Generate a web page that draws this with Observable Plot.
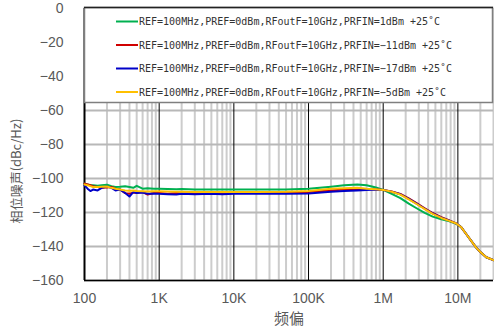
<!DOCTYPE html>
<html>
<head>
<meta charset="utf-8">
<script src="https://cdn.jsdelivr.net/npm/d3@7"></script>
<script src="https://cdn.jsdelivr.net/npm/@observablehq/plot@0.6"></script>
<style>
  html, body { margin: 0; padding: 0; background: #fff; }
  #chart { width: 494px; height: 333px; }
</style>
</head>
<body>
<div id="chart"></div>
<script>
// Frequency offsets (Hz)
const freq = [100, 110, 120, 130, 150, 170, 200, 230, 260, 300, 350, 400, 450, 500, 600, 700, 850,
  1000, 1300, 1700, 2000, 3000, 5000, 7000, 10000, 20000, 50000, 100000, 200000, 300000, 450000,
  600000, 800000, 1000000, 1300000, 1700000, 2200000, 2800000, 3600000, 4600000, 6000000, 7700000,
  9500000, 11000000, 13000000, 15000000, 17500000, 20000000, 24000000, 30000000];

// Phase noise (dBc/Hz) per series
const green = [-103, -103.5, -104, -104, -104.3, -104, -103.7, -104.5, -105, -104.8, -104.5, -105, -105.5, -104.3, -106, -105.8, -106,
  -106, -106.2, -106.3, -106.2, -106.4, -106.5, -106.4, -106.5, -106.5, -106.5, -106, -104.8, -104, -103.5,
  -104, -105.3, -106.7, -109, -111.5, -114.8, -117.5, -120.2, -122.4, -124, -125.2,
  -126.7, -128.5, -132.8, -136.5, -140.5, -143.3, -146.3, -148];
const red = [-103, -103.5, -104, -104.5, -105, -105.5, -105.3, -105, -106, -106.5, -108.6, -109, -108.3, -108.6, -108, -109.4, -108.5,
  -108.6, -109, -108.6, -108.8, -108.7, -108.6, -108.8, -108.6, -108.6, -108.4, -108, -107, -106.5, -106,
  -106.2, -106.4, -106.7, -107.6, -109.1, -111.7, -114.5, -117.5, -120.3, -122.8, -124.7,
  -126.4, -128.5, -132.8, -136.5, -140.5, -143.3, -146.3, -148];
const blue = [-104, -106, -107.4, -106.5, -107, -105.5, -104.7, -105.5, -107, -106.5, -108.5, -110.6, -108, -108.5, -108.3, -109, -108.8,
  -109, -109.2, -109.4, -109, -109.3, -109, -109.2, -109, -109, -109, -108.8, -107.8, -107.3, -107,
  -106.7, -106.5, -106.7, -107.8, -109.3, -112, -114.8, -117.8, -120.5, -123, -124.8,
  -126.5, -128.5, -132.8, -136.5, -140.5, -143.3, -146.3, -148];
const orange = [-103.5, -104, -104.5, -105, -105, -104.8, -104.7, -105.5, -106, -106.5, -107, -107.2, -107, -107.4, -107.5, -107.6, -107.5,
  -107.5, -107.7, -107.8, -107.8, -107.9, -108, -107.9, -108, -108, -107.8, -107.3, -106, -105.7, -105.5,
  -106, -106.3, -106.7, -107.8, -109.5, -112.3, -115, -118, -120.8, -123.2, -124.9,
  -126.5, -128.5, -132.8, -136.5, -140.5, -143.3, -146.3, -148];

const seriesNames = [
  "REF=100MHz,PREF=0dBm,RFoutF=10GHz,PRFIN=1dBm +25˚C",
  "REF=100MHz,PREF=0dBm,RFoutF=10GHz,PRFIN=−11dBm +25˚C",
  "REF=100MHz,PREF=0dBm,RFoutF=10GHz,PRFIN=−17dBm +25˚C",
  "REF=100MHz,PREF=0dBm,RFoutF=10GHz,PRFIN=−5dBm +25˚C"
];
const seriesValues = [green, red, blue, orange];
const seriesColors = ["#00b050", "#d00000", "#0000c8", "#ffc000"];

const xTicks = [100, 1000, 10000, 100000, 1000000, 10000000];
const xTickLabels = ["100", "1K", "10K", "100K", "1M", "10M"];
const yTicks = [-160, -140, -120, -100, -80, -60, -40, -20, 0];
const xDomain = [100, 30000000];

const xMinor = [];
for (const d of xTicks) for (let k = 2; k <= 9; k++) if (d * k <= xDomain[1]) xMinor.push(d * k);

const rows = [];
seriesValues.forEach((vals, s) => vals.forEach((v, i) => rows.push({f: freq[i], v, s})));

const lineMarks = seriesValues.map((vals, s) =>
  Plot.line(rows.filter(r => r.s === s), {x: "f", y: "v", stroke: seriesColors[s], strokeWidth: 2})
);

const chart = Plot.plot({
  width: 494,
  height: 333,
  marginLeft: 84,
  marginRight: 1,
  marginTop: 8,
  marginBottom: 53,
  style: {fontFamily: "'Liberation Sans', Arial, sans-serif", background: "#fff"},
  x: {type: "log", domain: xDomain},
  y: {domain: [-160, 0]},
  marks: [
    Plot.ruleX(xMinor, {stroke: "#cccccc", strokeWidth: 2}),
    Plot.ruleY(yTicks, {stroke: "#b8b8b8", strokeWidth: 2}),
    Plot.ruleX(xTicks.slice(1), {stroke: "#000", strokeWidth: 1}),
    Plot.ruleX([xDomain[0]], {stroke: "#000", strokeWidth: 2}),
    Plot.ruleY([-160], {stroke: "#000", strokeWidth: 1.5}),
    ...lineMarks,
    Plot.axisX({ticks: xTicks, tickFormat: (d) => xTickLabels[xTicks.indexOf(d)], tickSize: 0, tickPadding: 13, fontSize: 14, fill: "#595959", label: null}),
    Plot.axisY({ticks: yTicks, tickSize: 0, tickPadding: 21, fontSize: 14, fill: "#595959", label: null})
  ]
});

document.getElementById("chart").appendChild(chart);

// Legend box and axis titles
const svg = d3.select(chart);
const lg = svg.append("g").attr("text-anchor", "start");
lg.append("rect").attr("x", 84.5).attr("y", 7.5).attr("width", 408).attr("height", 95)
  .attr("fill", "#fff").attr("stroke", "#7f7f7f").attr("stroke-width", 1.5);
lg.append("line").attr("x1", 84).attr("x2", 493).attr("y1", 7.5).attr("y2", 7.5).attr("stroke", "#222").attr("stroke-width", 1.5);
const rowY = [21.5, 45, 68.5, 92];
seriesNames.forEach((name, i) => {
  lg.append("line").attr("x1", 116).attr("x2", 138).attr("y1", rowY[i]).attr("y2", rowY[i])
    .attr("stroke", seriesColors[i]).attr("stroke-width", 2);
  lg.append("text").attr("x", 139).attr("y", rowY[i]).attr("dy", "0.35em")
    .attr("text-anchor", "start")
    .attr("font-family", "'DejaVu Sans Mono', monospace").attr("font-size", 10)
    .attr("fill", "#333").text(name);
});

svg.append("text").attr("transform", "translate(21,171) rotate(-90)")
  .attr("text-anchor", "middle").attr("font-family", "'Noto Sans CJK SC', sans-serif")
  .attr("font-size", 13).attr("fill", "#595959").text("相位噪声(dBc/Hz)");
svg.append("text").attr("x", 289).attr("y", 319).attr("dy", "0.35em")
  .attr("text-anchor", "middle").attr("font-family", "'Noto Sans CJK SC', sans-serif")
  .attr("font-size", 15).attr("fill", "#595959").text("频偏");
</script>
</body>
</html>
